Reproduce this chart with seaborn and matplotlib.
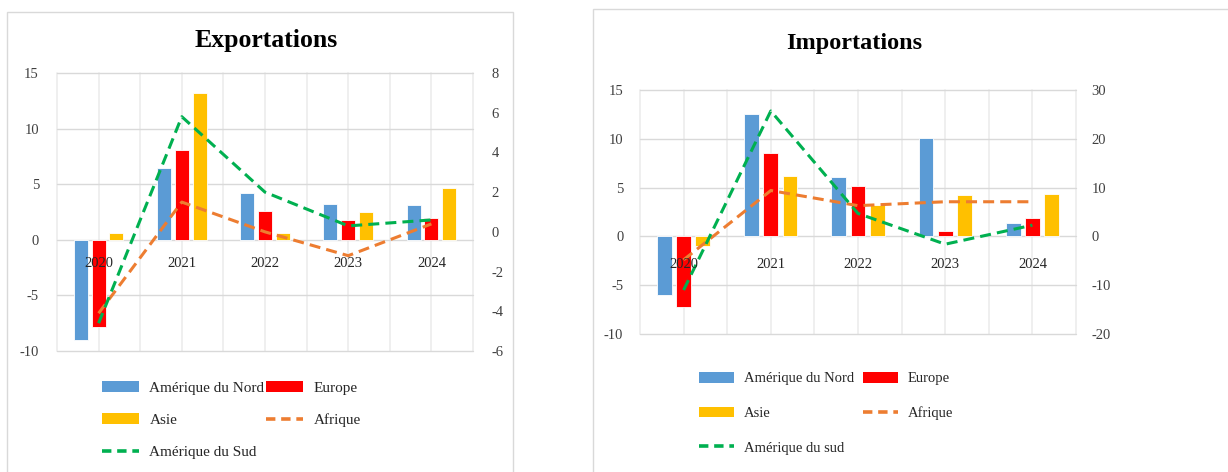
import numpy as np
import pandas as pd
import matplotlib
matplotlib.use("Agg")
import matplotlib.pyplot as plt
from matplotlib.patches import Patch, Rectangle
from matplotlib.lines import Line2D
import seaborn as sns

# ---- data -------------------------------------------------------------
years = ["2020", "2021", "2022", "2023", "2024"]

exp_amerique_nord = [-9.0, 6.5, 4.2, 3.2, 3.1]
exp_europe = [-7.8, 8.1, 2.6, 1.8, 2.0]
exp_asie = [0.6, 13.2, 0.6, 2.5, 4.7]
exp_afrique = [-4.1, 1.5, 0.0, -1.2, 0.4]
exp_amerique_sud = [-4.6, 5.8, 2.0, 0.3, 0.6]

imp_amerique_nord = [-6.0, 12.5, 6.1, 10.1, 1.4]
imp_europe = [-7.2, 8.5, 5.2, 0.6, 1.9]
imp_asie = [-1.0, 6.2, 3.2, 4.2, 4.3]
imp_afrique = [-4.8, 9.4, 6.3, 7.1, 7.1]
imp_amerique_sud = [-11.0, 25.7, 4.7, -1.6, 2.3]

bar_series = ["Amérique du Nord", "Europe", "Asie"]
bar_colors = ["#5b9bd5", "#ff0000", "#ffc000"]
col_afrique = "#ed7d31"
col_sud = "#00b050"

# ---- style ------------------------------------------------------------
sns.set_style("white")
plt.rcParams["font.family"] = ["Liberation Serif", "DejaVu Serif"]
plt.rcParams["axes.unicode_minus"] = False

W, H = 1228, 472
fig = plt.figure(figsize=(W / 100, H / 100), dpi=100)


def px_rect(x0, y0, x1, y1):
    """Pixel box (top-left origin) -> figure fraction [l, b, w, h]."""
    return [x0 / W, 1 - y1 / H, (x1 - x0) / W, (y1 - y0) / H]


def panel(rect, title, title_xy, title_size, bars, afrique, sud,
          ylim, yticks, ylim2, yticks2, bar_width, bar_gap,
          pad_l, pad_r, year_off, legend_xy, legend_fs, colspacing,
          labelspacing, sud_label, tick_fs, year_fs):
    ax = fig.add_axes(px_rect(*rect))
    pos = np.arange(len(years))

    df = pd.DataFrame({
        "annee": np.repeat(years, len(bar_series)),
        "region": bar_series * len(years),
        "valeur": np.array(bars).T.ravel(),
    })
    sns.barplot(data=df, x="annee", y="valeur", hue="region",
                hue_order=bar_series, palette=bar_colors, width=bar_width,
                gap=bar_gap, edgecolor="white", linewidth=0.6,
                saturation=1, legend=False, ax=ax, zorder=2)

    ax.set_xlim(-0.5, len(years) - 0.5)
    ax.set_ylim(*ylim)
    ax.set_yticks(yticks)
    ax.set_xticks(np.arange(-0.5, len(years), 0.5))
    ax.set_xticklabels([])
    ax.set_xlabel("")
    ax.set_ylabel("")
    ax.set_axisbelow(True)
    ax.grid(axis="y", color="#d9d9d9", linewidth=1.0)
    ax.grid(axis="x", color="#eeeeee", linewidth=1.3)
    for gl in ax.get_ygridlines() + ax.get_xgridlines():
        gl.set_clip_on(False)
    for s in ax.spines.values():
        s.set_visible(False)
    ax.tick_params(axis="both", length=0)
    ax.tick_params(axis="y", pad=pad_l, labelsize=tick_fs, labelcolor="#404040")

    ax2 = ax.twinx()
    ldf = pd.DataFrame({"pos": pos, "afrique": afrique, "sud": sud})
    sns.lineplot(data=ldf, x="pos", y="afrique", color=col_afrique,
                 linewidth=2.2, linestyle=(0, (3.6, 2.0)), ax=ax2)
    sns.lineplot(data=ldf, x="pos", y="sud", color=col_sud,
                 linewidth=2.2, linestyle=(0, (3.6, 2.0)), ax=ax2)
    ax2.set_ylim(*ylim2)
    ax2.set_yticks(yticks2)
    ax2.set_ylabel("")
    ax2.set_xlabel("")
    ax2.grid(False)
    for s in ax2.spines.values():
        s.set_visible(False)
    ax2.tick_params(axis="both", length=0)
    ax2.tick_params(axis="y", pad=pad_r, labelsize=tick_fs, labelcolor="#404040")
    ax.set_xlim(-0.5, len(years) - 0.5)

    for i, y in enumerate(years):
        ax2.annotate(y, xy=(i, 0), xycoords=ax.transData,
                     xytext=(0, -year_off), textcoords="offset points",
                     ha="center", va="center", fontsize=year_fs,
                     color="#262626", zorder=5)

    fig.text(title_xy[0] / W, 1 - title_xy[1] / H, title, ha="center",
             va="center", fontsize=title_size, fontweight="bold", color="black")

    handles = [
        Patch(facecolor=bar_colors[0], edgecolor="none"),
        Patch(facecolor=bar_colors[2], edgecolor="none"),
        Line2D([0], [0], color=col_sud, lw=2.6, linestyle=(0, (2.6, 1.6))),
        Patch(facecolor=bar_colors[1], edgecolor="none"),
        Line2D([0], [0], color=col_afrique, lw=2.6, linestyle=(0, (2.6, 1.6))),
    ]
    labels = ["Amérique du Nord", "Asie", sud_label, "Europe", "Afrique"]
    fig.legend(handles, labels, ncol=2, loc="upper left",
               bbox_to_anchor=(legend_xy[0] / W, 1 - legend_xy[1] / H),
               frameon=False, fontsize=legend_fs, borderpad=0,
               borderaxespad=0, handlelength=2.4, handleheight=0.75,
               handletextpad=0.7, labelspacing=labelspacing,
               columnspacing=colspacing, labelcolor="#262626")
    return ax, ax2


# exports panel
panel(rect=(57, 73, 473, 351), title="Exportations", title_xy=(266, 41),
      title_size=18.5,
      bars=[exp_amerique_nord, exp_europe, exp_asie],
      afrique=exp_afrique, sud=exp_amerique_sud,
      ylim=(-10, 15), yticks=np.arange(-10, 16, 5),
      ylim2=(-6, 8), yticks2=np.arange(-6, 9, 2),
      bar_width=0.64, bar_gap=0.21, pad_l=13, pad_r=13.5, year_off=17.3,
      legend_xy=(102, 381), legend_fs=11, colspacing=0.12, labelspacing=1.2,
      sud_label="Amérique du Sud", tick_fs=10.5, year_fs=10.5)

# imports panel
panel(rect=(640, 90, 1076, 334), title="Importations", title_xy=(854, 44),
      title_size=17.5,
      bars=[imp_amerique_nord, imp_europe, imp_asie],
      afrique=imp_afrique, sud=imp_amerique_sud,
      ylim=(-10, 15), yticks=np.arange(-10, 16, 5),
      ylim2=(-20, 30), yticks2=np.arange(-20, 31, 10),
      bar_width=0.66, bar_gap=0.22, pad_l=12, pad_r=11, year_off=20,
      legend_xy=(699, 372), legend_fs=10.5, colspacing=0.57, labelspacing=1.45,
      sud_label="Amérique du sud", tick_fs=10.5, year_fs=10.5)

# panel frames
fig.add_artist(Rectangle((7 / W, -0.05), (513 - 7) / W, 1.05 - 12 / H,
                         transform=fig.transFigure, fill=False,
                         edgecolor="#d9d9d9", linewidth=1.0))
fig.add_artist(Rectangle((593 / W, -0.05), 0.6, 1.05 - 9 / H,
                         transform=fig.transFigure, fill=False,
                         edgecolor="#d9d9d9", linewidth=1.0))

fig.savefig("out.png", dpi=100)
